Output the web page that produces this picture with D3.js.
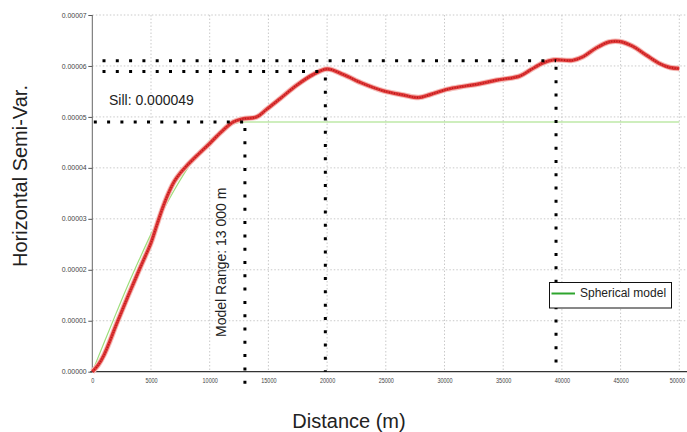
<!DOCTYPE html>
<html>
<head>
<meta charset="utf-8">
<script src="https://cdn.jsdelivr.net/npm/d3@7"></script>
<style>
  html, body { margin: 0; padding: 0; background: #fff; }
  svg { display: block; font-family: "Liberation Sans", Arial, sans-serif; }
</style>
</head>
<body>
<svg id="chart" width="687" height="432"></svg>
<script>
// Experimental horizontal semivariogram (distance in m, semivariance)
const expDistance = [0, 500, 1000, 1500, 2000, 2500, 3000, 3500, 4000, 4500, 5000, 5500, 6000, 6500,
  7000, 7500, 8000, 9000, 10000, 11000, 12000, 12800, 14000, 14800, 16000, 17400, 18800, 20000,
  21400, 23000, 24800, 26500, 27800, 28800, 30200, 31600, 33000, 34400, 36400, 37300, 38400,
  39300, 40900, 41800, 42900, 44000, 44900, 46000, 47200, 48300, 49200, 50000];
const expSemiVar = [0, 1.3e-6, 3.3e-6, 6.0e-6, 9.0e-6, 11.8e-6, 14.6e-6, 17.3e-6, 20.0e-6, 22.6e-6,
  25.3e-6, 28.8e-6, 32.2e-6, 35.1e-6, 37.4e-6, 39.0e-6, 40.3e-6, 42.6e-6, 44.8e-6, 47.1e-6, 49.0e-6,
  49.6e-6, 50.0e-6, 51.4e-6, 53.6e-6, 56.2e-6, 58.3e-6, 59.4e-6, 58.3e-6, 56.6e-6, 55.1e-6, 54.3e-6,
  53.8e-6, 54.4e-6, 55.4e-6, 56.0e-6, 56.5e-6, 57.2e-6, 58.0e-6, 59.2e-6, 60.6e-6, 61.2e-6, 61.1e-6,
  61.8e-6, 63.5e-6, 64.7e-6, 64.8e-6, 63.9e-6, 62.1e-6, 60.5e-6, 59.7e-6, 59.5e-6];

// Fitted spherical model (sill 0.000049, range 13 000 m)
const modelDistance = [0, 1000, 2000, 3000, 4000, 5000, 6000, 7000, 8000, 9000, 10000, 11000, 12000, 13000, 50000];
const modelSemiVar = [0, 5.7e-6, 11.3e-6, 16.8e-6, 22.0e-6, 27.0e-6, 31.5e-6, 35.7e-6, 39.5e-6, 42.8e-6,
  45.4e-6, 47.3e-6, 48.6e-6, 49.0e-6, 49.0e-6];

const sill = 0.000049;
const modelRange = 13000;

// Reference levels read on the curve
const markDistances = [19850, 39500];
const markLevels = [0.0000589, 0.000061];

const xTicks = [0, 5000, 10000, 15000, 20000, 25000, 30000, 35000, 40000, 45000, 50000];
const yTicks = [0, 0.00001, 0.00002, 0.00003, 0.00004, 0.00005, 0.00006, 0.00007];

const svg = d3.select("#chart");
const W = 687;

const x = d3.scaleLinear().domain([0, 50000]).range([92.3, 679.3]);
const y = d3.scaleLinear().domain([0, 0.00007]).range([371.7, 15]);

// Grid
const grid = svg.append("g").attr("stroke", "#c9c9c9").attr("stroke-width", 1).attr("stroke-dasharray", "1.5,2");
grid.selectAll("line.v").data(xTicks.slice(1)).join("line")
  .attr("x1", d => x(d)).attr("x2", d => x(d)).attr("y1", y(0.00007)).attr("y2", y(0));
grid.selectAll("line.h").data(yTicks.slice(1)).join("line")
  .attr("x1", x(0)).attr("x2", W).attr("y1", d => y(d)).attr("y2", d => y(d));

// Axes
const yAxis = svg.append("g").attr("transform", `translate(${x(0)},0)`)
  .call(d3.axisLeft(y).tickValues(yTicks).tickSize(4).tickPadding(1.6).tickFormat(d => d.toFixed(5)));
yAxis.select(".domain").remove();
yAxis.selectAll(".tick line").attr("stroke", "#555");
yAxis.selectAll(".tick text")
  .attr("font-size", 6.5).attr("fill", "#444")
  .attr("textLength", 25).attr("lengthAdjust", "spacingAndGlyphs")
  .attr("font-family", "Liberation Sans, Arial, sans-serif");

const xAxis = svg.append("g").attr("transform", `translate(0,${y(0)})`)
  .call(d3.axisBottom(x).tickValues(xTicks).tickSize(0).tickPadding(6).tickFormat(d => String(d)));
xAxis.select(".domain").remove();
xAxis.selectAll(".tick text")
  .attr("font-size", 8).attr("fill", "#444")
  .attr("textLength", d => String(d).length * 3.05).attr("lengthAdjust", "spacingAndGlyphs")
  .attr("font-family", "Liberation Sans, Arial, sans-serif");
// keep the last label inside the frame
xAxis.selectAll(".tick").filter(d => d === 50000).select("text")
  .attr("text-anchor", "end").attr("x", W - x(50000) - 2.5);

svg.append("line").attr("x1", x(0)).attr("x2", x(0)).attr("y1", y(0.00007)).attr("y2", y(0))
  .attr("stroke", "#666").attr("stroke-width", 1);
svg.append("line").attr("x1", x(0) - 2).attr("x2", W).attr("y1", y(0)).attr("y2", y(0))
  .attr("stroke", "#333").attr("stroke-width", 1.3);

// Spherical model
const modelLine = d3.line().x((d, i) => x(modelDistance[i])).y(d => y(d)).curve(d3.curveMonotoneX);
svg.append("path").attr("d", modelLine(modelSemiVar))
  .attr("fill", "none").attr("stroke", "#9ede7c").attr("stroke-width", 1.2);

// Experimental variogram
const expLine = d3.line().x((d, i) => x(expDistance[i])).y(d => y(d)).curve(d3.curveCatmullRom.alpha(0.5));
const expPath = expLine(expSemiVar);
svg.append("path").attr("d", expPath).attr("fill", "none")
  .attr("stroke", "#f4c0bc").attr("stroke-width", 5.5).attr("stroke-linejoin", "round");
svg.append("path").attr("d", expPath).attr("fill", "none")
  .attr("stroke", "#e03838").attr("stroke-width", 3.4).attr("stroke-linejoin", "round");
svg.append("path").attr("d", expPath).attr("fill", "none")
  .attr("stroke", "#b01818").attr("stroke-width", 1.4).attr("stroke-dasharray", "1,1.6");

// Dotted reference lines
const dots = svg.append("g").attr("stroke", "#000").attr("stroke-width", 3)
  .attr("stroke-dasharray", "3,10.3").attr("fill", "none");
dots.append("line").attr("x1", x(0) + 1.5).attr("x2", x(modelRange)).attr("y1", y(sill)).attr("y2", y(sill));
dots.append("line").attr("x1", x(modelRange)).attr("x2", x(modelRange)).attr("y1", y(sill) + 6).attr("y2", 388);
markDistances.forEach((dist, i) => {
  dots.append("line").attr("x1", 102.5).attr("x2", x(dist)).attr("y1", y(markLevels[i])).attr("y2", y(markLevels[i]));
  dots.append("line").attr("x1", x(dist)).attr("x2", x(dist)).attr("y1", y(markLevels[i]) + 6).attr("y2", y(0));
});

// Annotations
svg.append("text").attr("x", 109).attr("y", 105).attr("font-size", 14).attr("fill", "#222")
  .text("Sill: 0.000049");
svg.append("text").attr("transform", `translate(${x(modelRange) - 18.5},337) rotate(-90)`)
  .attr("font-size", 14).attr("fill", "#222").text("Model Range: 13 000 m");

// Axis titles
svg.append("text").attr("transform", "translate(27,176) rotate(-90)").attr("text-anchor", "middle")
  .attr("font-size", 20).attr("fill", "#222").text("Horizontal Semi-Var.");
svg.append("text").attr("x", 349).attr("y", 427.5).attr("text-anchor", "middle")
  .attr("font-size", 20).attr("fill", "#222").text("Distance (m)");

// Legend
const legend = svg.append("g");
legend.append("rect").attr("x", 549.5).attr("y", 282.5).attr("width", 122).attr("height", 25.5)
  .attr("fill", "#fff").attr("stroke", "#111").attr("stroke-width", 1);
legend.append("line").attr("x1", 551.5).attr("x2", 575).attr("y1", 293.5).attr("y2", 293.5)
  .attr("stroke", "#2ea52e").attr("stroke-width", 2);
legend.append("text").attr("x", 580).attr("y", 297).attr("font-size", 12).attr("fill", "#222")
  .text("Spherical model");
</script>
</body>
</html>
